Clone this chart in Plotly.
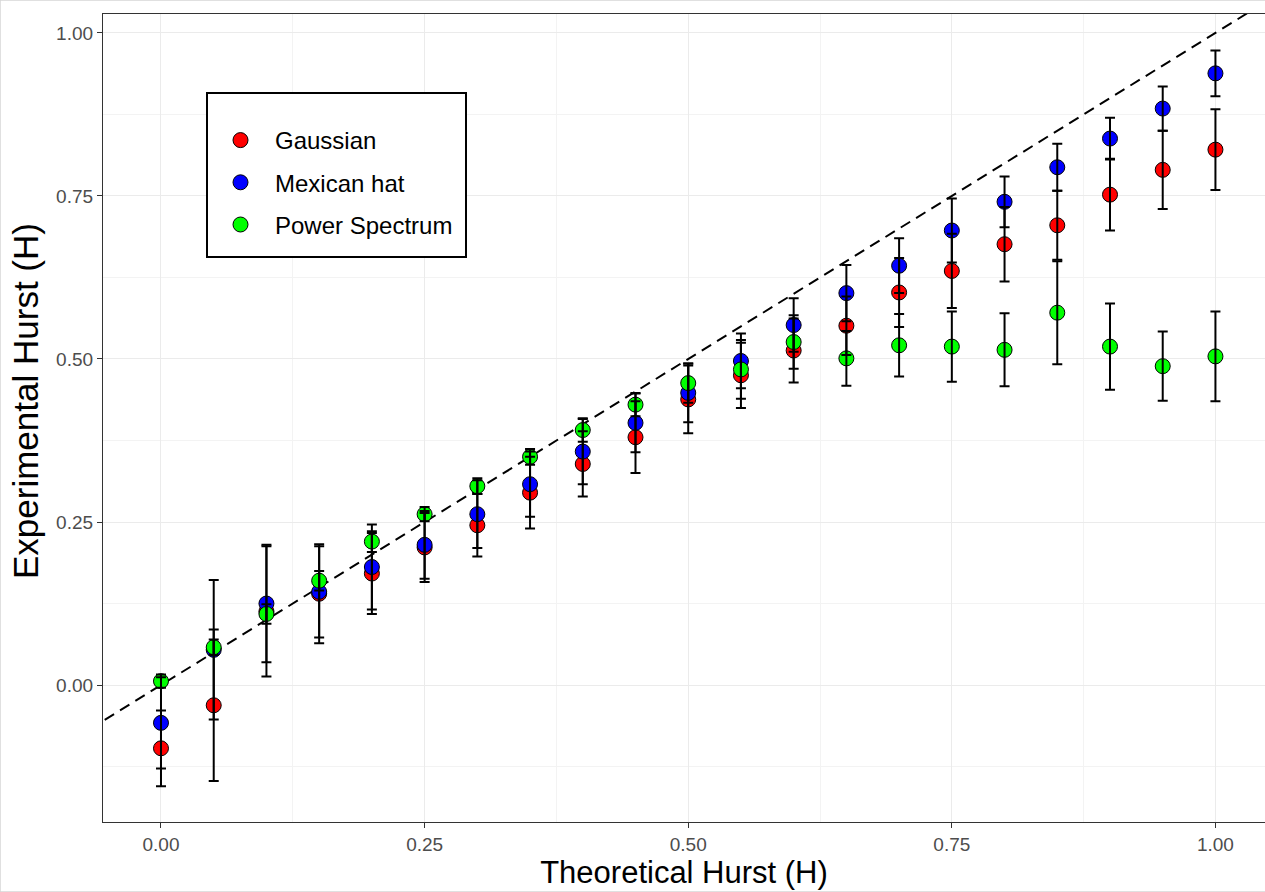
import plotly.graph_objects as go

# ---- data ----
theoretical_h = [0.00, 0.05, 0.10, 0.15, 0.20, 0.25, 0.30, 0.35, 0.40, 0.45, 0.50,
                 0.55, 0.60, 0.65, 0.70, 0.75, 0.80, 0.85, 0.90, 0.95, 1.00]

gaussian = [-0.097, -0.031, 0.113, 0.140, 0.171, 0.211, 0.245, 0.295, 0.339, 0.380, 0.438,
            0.475, 0.513, 0.551, 0.602, 0.635, 0.676, 0.705, 0.752, 0.790, 0.821]
gaussian_err = [0.058, 0.116, 0.100, 0.076, 0.062, 0.053, 0.048, 0.055, 0.050, 0.055, 0.052,
                0.050, 0.049, 0.045, 0.053, 0.057, 0.057, 0.053, 0.055, 0.060, 0.062]

mexican_hat = [-0.058, 0.054, 0.125, 0.143, 0.181, 0.215, 0.262, 0.308, 0.358, 0.402, 0.448,
               0.497, 0.552, 0.601, 0.643, 0.697, 0.741, 0.794, 0.838, 0.884, 0.938]
mexican_hat_err = [0.070, 0.107, 0.090, 0.070, 0.065, 0.052, 0.052, 0.050, 0.050, 0.045, 0.045,
                   0.042, 0.041, 0.043, 0.042, 0.049, 0.039, 0.036, 0.032, 0.034, 0.035]

power_spectrum = [0.006, 0.058, 0.109, 0.160, 0.220, 0.262, 0.305, 0.350, 0.391, 0.430, 0.463,
                  0.484, 0.526, 0.501, 0.521, 0.519, 0.514, 0.571, 0.519, 0.489, 0.504]
power_spectrum_err = [0.010, 0.012, 0.015, 0.015, 0.016, 0.011, 0.012, 0.012, 0.018, 0.018, 0.030,
                      0.045, 0.041, 0.042, 0.048, 0.054, 0.056, 0.079, 0.066, 0.053, 0.069]

series_names = ["Gaussian", "Mexican hat", "Power Spectrum"]
series_colors = ["#FF0000", "#0000FF", "#00FF00"]

x_ticks = [0.00, 0.25, 0.50, 0.75, 1.00]
y_ticks = [0.00, 0.25, 0.50, 0.75, 1.00]

x_title = "Theoretical Hurst (H)"
y_title = "Experimental Hurst (H)"

# identity reference line y = x
abline_intercept = 0.0
abline_slope = 1.0

x_range = [-0.055, 1.047]
y_range = [-0.21, 1.029]

FONT = "Liberation Sans, Arial, Helvetica, sans-serif"

# layout geometry (pixels)
W, H = 1265, 892
ML, MR, MT, MB = 103, 0, 14, 70
PW, PH = W - ML - MR, H - MT - MB


def px_x(p):
    return (p - ML) / PW


def px_y(p):
    return 1 - (p - MT) / PH


fig = go.Figure()

values = [gaussian, mexican_hat, power_spectrum]
errors = [gaussian_err, mexican_hat_err, power_spectrum_err]

# reference line (clipped to plot area)
line_x = [x_range[0] - 0.1, x_range[1] + 0.1]
fig.add_trace(go.Scatter(
    x=line_x, y=[abline_intercept + abline_slope * v for v in line_x],
    mode="lines", line=dict(color="black", width=2, dash="11px,7px"),
    showlegend=False, hoverinfo="skip"))

# points
for name, col, vals in zip(series_names, series_colors, values):
    fig.add_trace(go.Scatter(
        x=theoretical_h, y=vals, mode="markers", name=name, legendgroup=name,
        marker=dict(size=15, color=col, line=dict(color="black", width=1)),
    ))

# error bars drawn on top of the points
for name, vals, err in zip(series_names, values, errors):
    fig.add_trace(go.Scatter(
        x=theoretical_h, y=vals, mode="markers", showlegend=False, legendgroup=name,
        marker=dict(size=1, opacity=0),
        error_y=dict(type="data", array=err, visible=True, color="black",
                     thickness=2, width=5),
        hoverinfo="skip"))

axis_common = dict(
    showgrid=True, gridcolor="#EBEBEB", gridwidth=1.3,
    zeroline=False,
    ticks="outside", ticklen=5, tickcolor="#333333", tickwidth=1,
    tickfont=dict(family=FONT, size=19, color="#4D4D4D"),
    tickformat=".2f",
    minor=dict(showgrid=True, gridcolor="#F3F3F3", gridwidth=1, dtick=0.125, tick0=0.125),
)

fig.update_layout(
    width=W, height=H,
    margin=dict(l=ML, r=MR, t=MT, b=MB),
    paper_bgcolor="white", plot_bgcolor="white",
    font=dict(family=FONT, color="black"),
    xaxis=dict(axis_common, range=x_range, tickvals=x_ticks,
               showline=True, mirror=True, linecolor="#333333", linewidth=1.2,
               title=dict(text=x_title, font=dict(family=FONT, size=31, color="black"),
                          standoff=6)),
    yaxis=dict(axis_common, range=y_range, tickvals=y_ticks,
               showline=True, mirror=False, linecolor="#333333", linewidth=1.2),
    legend=dict(
        x=px_x(206), y=px_y(118), xanchor="left", yanchor="top",
        bgcolor="rgba(0,0,0,0)", borderwidth=0,
        font=dict(family=FONT, size=24, color="black"),
        traceorder="grouped", tracegroupgap=8,
        itemwidth=59,
    ),
    annotations=[
        dict(text=y_title, xref="paper", yref="paper", x=px_x(25), y=px_y(401),
             xanchor="center", yanchor="middle", textangle=-90, showarrow=False,
             font=dict(family=FONT, size=35, color="black")),
    ],
    shapes=[
        dict(type="rect", xref="paper", yref="paper",
             x0=-ML / PW, x1=1.0 + 2 / PW, y0=-MB / PH, y1=1 + MT / PH,
             line=dict(color="#D6D6D6", width=1.5), layer="below"),
        # legend frame
        dict(type="rect", xref="paper", yref="paper",
             x0=px_x(207), x1=px_x(466), y0=px_y(257), y1=px_y(93),
             line=dict(color="black", width=2), fillcolor="white", layer="above"),
    ],
)

fig.write_html("out.html", config={"displayModeBar": False},
               post_script="document.body.style.margin='0';document.body.style.overflow='hidden';")
